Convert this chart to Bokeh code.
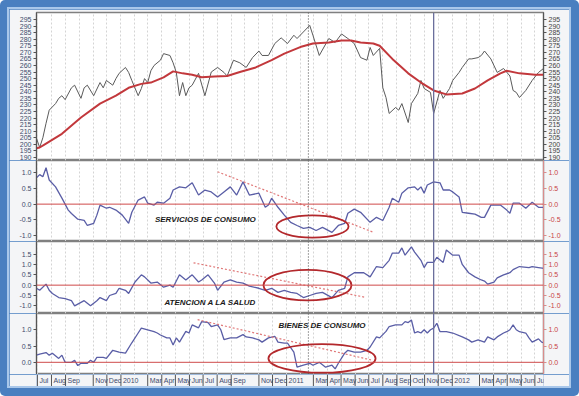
import numpy as np
import pandas as pd
from bokeh.plotting import figure
from bokeh.layouts import column
from bokeh.models import (Range1d, LinearAxis, FixedTicker, NumeralTickFormatter,
                          Span, Grid, BoxAnnotation)
from bokeh.core.properties import value
from bokeh.embed import file_html
from bokeh.resources import INLINE

# ---------------- data (weekly bars, week 0 = 2009-06-29) ----------------
START = "2009-06-29"

price_weeks = [0,1,2,3,4,6,7,8,9,11,12,14,15,16,18,20,21,22,24,25,26,28,29,30,32,33,34,35,36,37,
               39,40,42,43,44,45,46,47,48,49,51,53,55,57,59,60,62,64,66,68,70,71,73,75,77,79,81,82,86,87,
               89,92,94,96,98,100,102,104,105,106,108,109,110,111,113,114,115,117,118,120,121,122,124,125,127,128,130,131,133,134,
               136,137,139,140,141,143,145,147,149,150,151,152,154,156,158,160]
price_values = [204.5,197.6,205,216,226,231,235,237,234,243,245,235,243,245,237,247,243,248.6,245,250,
                254,258.5,254.7,248.6,237,242.5,250,247,256,260,264,269,267.6,262,254.7,237,247,237,243,245,
                254,237,255,258.5,254.7,252,264,262,258.5,266,271,267.6,267.6,276.7,281,276.7,283,280.5,290.5,283,
                267.6,280.5,277.5,284,280.5,276.7,266,264,273.7,267.6,273,243,235.6,223.5,228,226,231,216.6,231,238.7,
                248.6,242.5,239.5,223.5,241,235,242.5,248.6,254.7,258.5,265,265,266,267.6,271,265,254.7,257.7,252,241,
                239.5,235.6,241,248.6,254.7,258.5]

ma_weeks = [0,1,3,8,14,20,25,29,33,36,40,43,46,49,52,56,60,64,69,74,78,83,87,92,96,99,102,106,108,112,
            117,121,125,129,134,138,142,146,148,152,157,160]
ma_values = [197,197.6,200.6,208,220.4,231,237,243,246,247,251,255.5,254,253,251,251.6,252,255,258.5,264,
             269,274,276.7,277.5,279,279,277.5,276.7,275,265,254,247,241,238,238.7,242.5,248.6,254,256,254,253,253]

serv_weeks = [0,1,2,3,4,6,8,10,11,13,15,16,18,19,20,22,23,25,27,29,30,32,34,35,37,38,40,42,43,45,
              47,49,51,53,55,57,59,61,63,65,67,70,72,73,74,76,78,80,82,84,86,88,90,93,95,97,98,100,102,105,
              107,109,111,112,114,115,117,119,120,121,122,123,125,127,128,130,131,133,134,136,
              138,140,141,143,145,146,148,149,150,152,154,156,158,160]
serv_values = [0.84,0.94,0.87,1.16,0.77,0.55,0.19,-0.19,-0.3,-0.48,-0.52,-0.68,-0.61,-0.35,-0.03,-0.13,-0.1,-0.19,-0.35,-0.61,
               -0.26,0.13,0.23,0.03,-0.03,0.06,0.03,0.19,0.45,0.55,0.52,0.68,0.29,0.45,0.39,0.23,0.39,0.55,0.29,0.71,
               0.29,0.35,-0.1,-0.03,0.19,-0.1,-0.35,-0.58,-0.68,-0.77,-0.74,-0.84,-0.74,-0.9,-0.68,-0.61,-0.29,-0.16,-0.26,-0.58,
               -0.42,-0.52,-0.1,0.19,0.06,0.35,0.52,0.55,0.45,0.55,0.35,0.61,0.71,0.68,0.45,0.45,0.39,0.23,-0.26,-0.29,
               -0.32,-0.42,-0.42,-0.03,-0.03,-0.03,-0.19,-0.29,0.03,0.03,-0.13,0.06,-0.1,-0.1]

salud_weeks = [0,1,3,4,5,7,9,11,12,14,15,17,19,20,22,23,25,26,28,29,31,33,34,36,38,40,42,43,45,47,
               49,51,52,54,56,57,59,61,63,65,67,70,72,74,76,78,80,82,84,86,88,90,93,95,97,98,100,103,105,107,
               109,111,112,114,115,116,118,119,121,122,123,125,126,128,129,131,133,134,136,138,
               140,141,142,144,145,147,149,150,152,155,156,158,160]
salud_values = [-0.15,-0.25,0.05,-0.25,-0.4,-0.6,-0.65,-0.75,-1.0,-0.83,-0.75,-1.0,-0.75,-0.6,-0.75,-0.5,-0.4,-0.15,-0.25,-0.4,
                0.15,0.5,0.4,0.1,0.15,-0.1,0.0,-0.1,0.5,0.25,0.5,0.15,0.25,0.5,0.1,-0.25,0.15,0.25,0.15,0.1,
                -0.05,-0.15,-0.25,-0.15,-0.35,-0.25,-0.35,-0.4,-0.6,-0.5,-0.4,-0.35,-0.6,-0.25,-0.15,0.4,0.6,0.6,0.4,0.9,
                0.85,1.2,1.55,1.55,1.8,1.45,1.85,1.6,1.2,0.85,1.1,1.1,1.35,1.1,1.7,1.45,1.45,1.0,0.6,0.4,
                0.25,0.2,0.05,0.15,0.35,0.5,0.6,0.75,0.9,0.85,0.9,0.85,0.8]

bienes_weeks = [0,1,3,4,5,7,8,9,11,12,13,14,16,17,18,19,21,22,24,26,28,30,32,33,35,37,38,39,41,42,
                43,44,45,47,48,49,51,52,54,55,57,58,59,61,63,65,66,68,70,71,73,75,76,78,79,81,82,84,86,87,
                89,91,93,94,95,97,98,100,102,104,105,107,108,110,111,113,115,116,117,118,
                119,120,121,122,123,124,125,126,127,129,131,134,136,137,139,141,142,144,145,147,
                148,149,150,151,152,154,155,156,158,159,160]
bienes_values = [0.22,0.25,0.3,0.22,0.28,0.12,0.22,0.0,0.0,0.06,-0.1,-0.03,-0.03,0.06,0.0,0.15,0.15,0.12,0.37,0.31,
                 0.28,0.6,0.9,1.05,1.0,0.94,0.9,0.84,0.75,0.75,0.53,0.75,0.62,0.95,0.9,1.15,1.06,1.25,1.22,1.1,
                 1.15,1.0,0.7,0.75,0.75,0.85,0.78,0.75,0.69,0.62,0.75,0.8,0.62,0.59,0.59,0.31,-0.15,-0.09,-0.03,-0.09,
                 0.0,-0.15,-0.09,-0.2,-0.03,0.28,0.37,0.31,0.31,0.37,0.47,0.78,0.75,0.95,1.1,1.15,1.15,1.25,1.22,1.3,
                 0.9,0.94,0.9,1.0,0.9,1.0,1.05,1.2,0.94,0.94,0.9,0.78,0.69,0.62,0.69,0.62,0.78,0.69,0.78,0.9,
                 0.94,1.0,1.15,1.0,0.94,0.9,0.75,0.62,0.72,0.62,0.59]

# x-axis tick labels (month starts)
tick_months = ["2009-07","2009-08","2009-09","2009-11","2009-12","2010-01","2010-03","2010-04","2010-05","2010-06",
               "2010-07","2010-08","2010-09","2010-11","2010-12","2011-01","2011-03","2011-04","2011-05","2011-06",
               "2011-07","2011-08","2011-09","2011-10","2011-11","2011-12","2012-01","2012-03","2012-04","2012-05",
               "2012-06","2012-07"]
tick_labels = ["Jul","Aug","Sep","Nov","Dec","2010","Mar","Apr","May","Jun",
               "Jul","Aug","Sep","Nov","Dec","2011","Mar","Apr","May","Jun",
               "Jul","Aug","Sep","Oct","Nov","Dec","2012","Mar","Apr","May",
               "Jun","Jul"]

price_ticks = list(range(190, 300, 5))
serv_ticks = [-1.0, -0.5, 0.0, 0.5, 1.0]
salud_ticks = [-1.0, -0.5, 0.0, 0.5, 1.0, 1.5]
bienes_ticks = [0.0, 0.5, 1.0]

panel_titles = ["SERVICIOS DE CONSUMO", "ATENCION A LA SALUD", "BIENES DE CONSUMO"]

# annotations (drawn by hand on the original)
title_pos = [("2010-07-06", -0.48), ("2010-07-17", -0.83), ("2011-03-20", 1.12)]
trend_lines = [(["2010-08-02", "2011-07-12"], [1.03, -0.90]),
               (["2010-06-10", "2011-06-24"], [1.08, -0.59]),
               (["2010-06-19", "2011-07-10"], [1.31, 0.06])]
ellipses = [("2011-02-27", -0.71, 159, 0.71),
            ("2011-02-16", 0.0, 194, 1.47),
            ("2011-03-20", 0.12, 236, 0.88)]
vline_dotted = "2011-02-18"
vline_solid = "2011-11-21"

# ---------------- helpers ----------------
t0 = pd.Timestamp(START)
def wk(weeks):
    return t0 + pd.to_timedelta(np.array(weeks) * 7, unit="D")

def ms(d):
    return pd.Timestamp(d).value / 1e6

DAY = 86400000.0
X0, X1 = "2009-06-29", "2012-07-20"
xr = Range1d(start=pd.Timestamp(X0), end=pd.Timestamp(X1))
grid_ms = [ms(d) for d in pd.date_range("2009-07-01", "2012-07-01", freq="MS")]

FONT = "Liberation Sans"
BLUE = "#5a5ea6"
RED = "#cf4a4a"
BORDER_BG = "#f4f5f7"
FIG_W, BL, BR = 560, 27, 26

def make_fig(h, yr, top=0, bottom=0):
    p = figure(width=FIG_W, height=h, x_range=xr, y_range=yr, x_axis_type="datetime",
               x_axis_location=None,
               output_backend="svg", toolbar_location=None,
               min_border_left=BL, min_border_right=BR,
               min_border_top=top, min_border_bottom=bottom,
               background_fill_color="white", border_fill_color=BORDER_BG,
               outline_line_color="#808080", outline_line_width=1.5)
    p.grid.visible = False
    p.add_layout(Grid(dimension=0, ticker=FixedTicker(ticks=grid_ms),
                      grid_line_color="#d4d4d4", grid_line_dash="2 2", grid_line_width=1))
    return p

def style_y(ax, col, linecol):
    ax.major_label_text_font_size = "7px"
    ax.major_label_text_font = FONT
    ax.major_label_text_color = col
    ax.axis_line_color = linecol
    ax.major_tick_line_color = linecol
    ax.minor_tick_line_color = None
    ax.major_tick_in = 0
    ax.major_tick_out = 3
    ax.major_label_standoff = 2

def add_y_axes(p, ticks, fmt, left_col, right_col, right_line):
    p.left[0].ticker = FixedTicker(ticks=ticks)
    if fmt:
        p.left[0].formatter = NumeralTickFormatter(format=fmt)
    style_y(p.left[0], left_col, "#555555")
    ra = LinearAxis(ticker=FixedTicker(ticks=ticks))
    if fmt:
        ra.formatter = NumeralTickFormatter(format=fmt)
    style_y(ra, right_col, right_line)
    p.add_layout(ra, "right")

def add_vlines(p):
    p.add_layout(Span(location=ms(vline_dotted), dimension="height", line_color="#444444",
                      line_dash="1 2", line_width=1))
    p.add_layout(Span(location=ms(vline_solid), dimension="height", line_color="#6b6f9c",
                      line_width=1.3))

# ---------------- top panel: price + moving average ----------------
p1 = make_fig(151, Range1d(187.7, 300.3), top=3)
add_y_axes(p1, price_ticks, None, "#3e4a6c", "#444444", "#555555")
add_vlines(p1)
p1.line(wk(price_weeks), price_values, line_color="#5a5a5a", line_width=1)
p1.line(wk(ma_weeks), ma_values, line_color="#c2383c", line_width=2)
# dark "last value" boxes on both price scales
for lft in (3, FIG_W - BR + 2):
    try:
        p1.add_layout(BoxAnnotation(left=lft, right=lft + 21, top=15, bottom=22,
                                    left_units="canvas", right_units="canvas",
                                    top_units="canvas", bottom_units="canvas",
                                    fill_color="#2a0c0c", fill_alpha=1.0,
                                    line_color="#4a1010", line_width=1, level="overlay"))
    except Exception:
        pass

# ---------------- indicator panels ----------------
def indicator(h, yr, ticks, weeks, vals, idx):
    p = make_fig(h, yr)
    add_y_axes(p, ticks, "0.0", "#3e4a6c", "#c84444", "#d98c8c")
    p.add_layout(Span(location=0, dimension="width", line_color=RED, line_width=1))
    add_vlines(p)
    p.line(wk(weeks), vals, line_color=BLUE, line_width=1.3)
    td, tv = trend_lines[idx]
    p.line([pd.Timestamp(d) for d in td], tv, line_color="#e07878", line_dash="2 2", line_width=1.2)
    cd, cv, wd, hv = ellipses[idx]
    p.ellipse(x=[pd.Timestamp(cd)], y=[cv], width=[wd * DAY], height=[hv],
              fill_color=None, line_color="#b3282c", line_width=1.8)
    lx, ly = title_pos[idx]
    p.text(x=[pd.Timestamp(lx)], y=[ly], text=[panel_titles[idx]],
           text_font=value(FONT), text_font_style="bold italic", text_font_size="8px",
           text_align="center", text_baseline="middle", text_color="#1a1a1a")
    return p

p2 = indicator(81, Range1d(-1.19, 1.39), serv_ticks, serv_weeks, serv_values, 0)
p3 = indicator(72, Range1d(-1.37, 2.11), salud_ticks, salud_weeks, salud_values, 1)
p4 = indicator(61, Range1d(-0.375, 1.5), bienes_ticks, bienes_weeks, bienes_values, 2)

# ---------------- month strip (time axis) ----------------
p5 = figure(width=FIG_W, height=12, x_range=xr, y_range=Range1d(0, 1), x_axis_type="datetime",
            x_axis_location=None, y_axis_location=None,
            output_backend="svg", toolbar_location=None,
            min_border_left=BL, min_border_right=BR, min_border_top=0, min_border_bottom=0,
            background_fill_color=BORDER_BG, border_fill_color=BORDER_BG, outline_line_color=None)
p5.grid.visible = False
sep_dates = [pd.Timestamp(m + "-01") for m in tick_months]
p5.segment(x0=sep_dates, y0=0, x1=sep_dates, y1=1, line_color="#555555", line_width=1)
p5.text(x=sep_dates, y=0.5, text=tick_labels, x_offset=2,
        text_font=value(FONT), text_font_size="7px", text_color="#3e4a6c",
        text_align="left", text_baseline="middle")

inner = column(p1, p2, p3, p4, p5, spacing=0, styles={"border": "2px solid #a9c7ea"})
page = column(inner, spacing=0,
              styles={"background-color": "#4a7fc0", "padding": "7px 8px 8px 7px",
                      "border-radius": "5px"})

open("out.html", "w").write(file_html(page, INLINE))
